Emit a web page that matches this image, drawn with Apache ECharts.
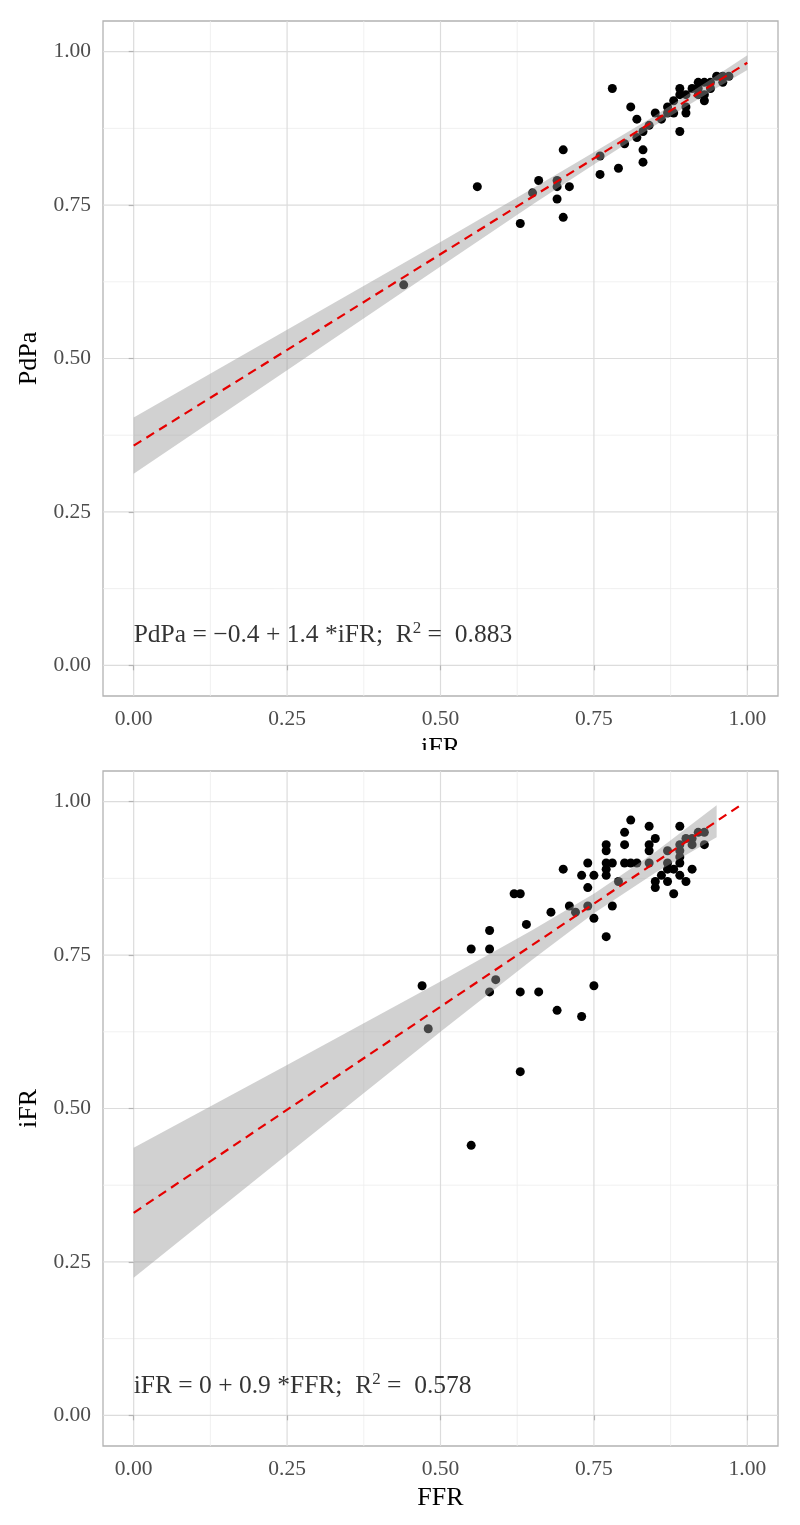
<!DOCTYPE html>
<html>
<head>
<meta charset="utf-8">
<script src="https://cdn.jsdelivr.net/npm/echarts@6/dist/echarts.min.js"></script>
<style>
html,body{margin:0;padding:0;background:#fff;width:800px;height:1525px;overflow:hidden;}
#top{position:absolute;left:0;top:0;width:800px;height:750px;overflow:hidden;}
#bot{position:absolute;left:0;top:750px;width:800px;height:775px;}
</style>
</head>
<body>
<div id="top"></div>
<div id="bot"></div>
<script>
// ---- tick definitions ----
const majorTicks = [0, 0.25, 0.5, 0.75, 1];
const minorTicks = [0.125, 0.375, 0.625, 0.875];
const tickLabels = ['0.00', '0.25', '0.50', '0.75', '1.00'];

// ---- top panel: iFR (x) vs PdPa (y) ----
const topIFR  = [0.44,0.56,0.63,0.65,0.66,0.69,0.69,0.69,0.70,0.70,0.71,0.76,0.76,0.78,0.79,0.80,0.81,0.82,0.82,0.83,0.83,0.83,0.85,0.86,0.87,0.88,0.88,0.89,0.89,0.89,0.90,0.90,0.90,0.91,0.92,0.92,0.92,0.93,0.93,0.93,0.94,0.94,0.95,0.96,0.96,0.97,0.87,0.84];
const topPdPa = [0.62,0.78,0.72,0.77,0.79,0.79,0.78,0.76,0.84,0.73,0.78,0.83,0.80,0.94,0.81,0.85,0.91,0.89,0.86,0.87,0.84,0.82,0.90,0.89,0.91,0.92,0.90,0.94,0.93,0.87,0.93,0.91,0.90,0.94,0.95,0.93,0.94,0.95,0.92,0.93,0.94,0.95,0.96,0.95,0.96,0.96,0.90,0.88];
const topFitX = [0, 1];
const topFitY = [0.358, 0.982];
const topBandX  = [0, 0.25, 0.5, 0.65, 0.75, 0.85, 0.95, 1.0];
const topBandLo = [0.312, 0.481, 0.650, 0.751, 0.816, 0.880, 0.941, 0.970];
const topBandHi = [0.404, 0.547, 0.690, 0.777, 0.836, 0.896, 0.961, 0.994];
const topEquation = ['PdPa = \u22120.4 + 1.4 *iFR;  R', '2', ' =  0.883'];
const topLabelPos = [0, 0.049];

// ---- bottom panel: FFR (x) vs iFR (y) ----
const botFFR = [0.47,0.48,0.55,0.55,0.58,0.58,0.58,0.59,0.62,0.63,0.63,0.63,0.64,0.66,0.68,0.69,0.70,0.71,0.72,0.73,0.73,0.74,0.74,0.74,0.75,0.75,0.75,0.77,0.77,0.77,0.77,0.77,0.77,0.78,0.78,0.79,0.80,0.80,0.80,0.81,0.81,0.82,0.84,0.84,0.84,0.84,0.85,0.85,0.85,0.86,0.87,0.87,0.87,0.87,0.88,0.88,0.89,0.89,0.89,0.89,0.89,0.89,0.90,0.90,0.91,0.91,0.91,0.92,0.93,0.93];
const botIFR = [0.70,0.63,0.76,0.44,0.79,0.76,0.69,0.71,0.85,0.85,0.69,0.56,0.80,0.69,0.82,0.66,0.89,0.83,0.82,0.88,0.65,0.90,0.86,0.83,0.88,0.81,0.70,0.93,0.92,0.90,0.89,0.88,0.78,0.90,0.83,0.87,0.95,0.93,0.90,0.97,0.90,0.90,0.96,0.93,0.92,0.90,0.94,0.87,0.86,0.88,0.92,0.90,0.89,0.87,0.89,0.85,0.96,0.93,0.92,0.91,0.90,0.88,0.94,0.87,0.94,0.93,0.89,0.95,0.95,0.93];
const botFitX = [0, 0.99];
const botFitY = [0.330, 0.995];
const botBandX  = [0, 0.25, 0.5, 0.65, 0.75, 0.85, 0.95];
const botBandLo = [0.224, 0.425, 0.625, 0.743, 0.818, 0.884, 0.942];
const botBandHi = [0.436, 0.571, 0.707, 0.791, 0.850, 0.918, 0.994];
const botEquation = ['iFR = 0 + 0.9 *FFR;  R', '2', ' =  0.578'];
const botLabelPos = [0, 0.047];

const FONT = '"Liberation Serif", "DejaVu Serif", serif';

function zip(a, b) { return a.map((v, i) => [v, b[i]]); }

function buildOption(cfg) {
  const axisCommon = {
    type: 'value', min: -0.05, max: 1.05,
    axisLine: { show: false },
    splitLine: { show: false },
    axisTick: { show: true, length: 5, customValues: majorTicks, lineStyle: { color: '#b3b3b3', width: 1.2 } },
    axisLabel: {
      customValues: majorTicks, margin: 12, color: '#4d4d4d', fontFamily: FONT, fontSize: 21.5,
      formatter: v => tickLabels[majorTicks.indexOf(v)] ?? ''
    },
    nameLocation: 'middle',
    nameTextStyle: { fontFamily: FONT, fontSize: 26, color: '#000' }
  };
  const gridLineSeries = (ticks, color, width) => ({
    type: 'custom', silent: true, z: 0,
    data: ticks.map(v => [v, v]),
    renderItem: (params, api) => {
      const cs = params.coordSys;
      const v = api.value(0);
      const px = api.coord([v, 0])[0];
      const py = api.coord([0, v])[1];
      return {
        type: 'group', children: [
          { type: 'line', shape: { x1: px, y1: cs.y, x2: px, y2: cs.y + cs.height }, style: { stroke: color, lineWidth: width } },
          { type: 'line', shape: { x1: cs.x, y1: py, x2: cs.x + cs.width, y2: py }, style: { stroke: color, lineWidth: width } }
        ]
      };
    }
  });
  return {
    animation: false,
    backgroundColor: '#fff',
    grid: { left: 103, top: 21, width: 675, height: 675, outerBoundsMode: 'none', containLabel: false, show: true, borderColor: '#b3b3b3', borderWidth: 1.3, backgroundColor: 'transparent' },
    xAxis: Object.assign({}, axisCommon, { name: cfg.xName, nameGap: 37 }),
    yAxis: Object.assign({}, axisCommon, { name: cfg.yName, nameGap: 48, nameRotate: 90 }),
    series: [
      gridLineSeries(minorTicks, '#ececec', 0.8),
      gridLineSeries(majorTicks, '#dcdcdc', 1.2),
      {
        type: 'scatter', z: 2, symbol: 'circle', symbolSize: 9,
        itemStyle: { color: '#000', opacity: 1 },
        data: zip(cfg.x, cfg.y)
      },
      {
        type: 'custom', z: 3, silent: true,
        data: [[cfg.bandX[0], cfg.bandLo[0]]],
        renderItem: (params, api) => {
          const pts = [];
          cfg.bandX.forEach((x, i) => pts.push(api.coord([x, cfg.bandHi[i]])));
          for (let i = cfg.bandX.length - 1; i >= 0; i--) pts.push(api.coord([cfg.bandX[i], cfg.bandLo[i]]));
          return { type: 'polygon', shape: { points: pts }, style: { fill: 'rgba(153,153,153,0.45)' } };
        }
      },
      {
        type: 'line', z: 4, symbol: 'none', silent: true,
        data: zip(cfg.fitX, cfg.fitY),
        lineStyle: { color: '#e60000', width: 2.2, type: [9, 6] }
      },
      {
        type: 'scatter', z: 5, symbolSize: 0, silent: true,
        data: [cfg.labelPos],
        label: {
          show: true, position: 'right', distance: 0,
          formatter: '{a|' + cfg.eq[0] + '}{s|' + cfg.eq[1] + '}{a|' + cfg.eq[2] + '}',
          rich: {
            a: { fontFamily: FONT, fontSize: 25.5, color: '#000', lineHeight: 30 },
            s: { fontFamily: FONT, fontSize: 17, color: '#000', verticalAlign: 'top', lineHeight: 18 }
          }
        }
      }
    ]
  };
}

const topChart = echarts.init(document.getElementById('top'), null, { renderer: 'canvas' });
topChart.setOption(buildOption({
  x: topIFR, y: topPdPa, fitX: topFitX, fitY: topFitY,
  bandX: topBandX, bandLo: topBandLo, bandHi: topBandHi,
  eq: topEquation, labelPos: topLabelPos, xName: 'iFR', yName: 'PdPa'
}));
const botChart = echarts.init(document.getElementById('bot'), null, { renderer: 'canvas' });
botChart.setOption(buildOption({
  x: botFFR, y: botIFR, fitX: botFitX, fitY: botFitY,
  bandX: botBandX, bandLo: botBandLo, bandHi: botBandHi,
  eq: botEquation, labelPos: botLabelPos, xName: 'FFR', yName: 'iFR'
}));
</script>
</body>
</html>
